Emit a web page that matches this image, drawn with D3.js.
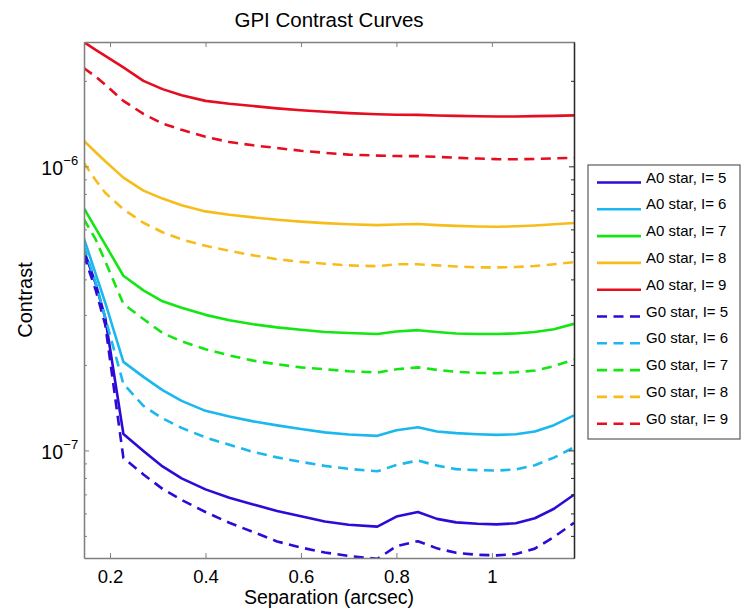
<!DOCTYPE html>
<html lang="en">
<head>
  <meta charset="UTF-8">
  <title>GPI Contrast Curves</title>
  <script src="https://d3js.org/d3.v7.min.js"></script>
  <style>
    * {
      margin: 0;
      padding: 0;
      box-sizing: border-box;
    }
    body {
      background: #fff;
      font-family: "Liberation Sans", Arial, sans-serif;
    }
    svg {
      display: block;
    }
  </style>
</head>
<body>
  <div id="chart"></div>
  <script>
    // separation (arcsec) where the curves are sampled
    const separation = [0.145, 0.17, 0.19, 0.228, 0.27, 0.31, 0.35, 0.40, 0.45, 0.50, 0.55, 0.60, 0.65,
                        0.70, 0.76, 0.80, 0.845, 0.885, 0.925, 0.97, 1.01, 1.05, 1.09, 1.13, 1.172];

    // A0 star curves
    const a0I5 = [5.08e-7, 3.86e-7, 2.93e-7, 1.143e-7, 0.996e-7, 0.878e-7, 0.797e-7, 0.729e-7, 0.681e-7, 0.645e-7, 0.612e-7, 0.586e-7, 0.562e-7,
                  0.547e-7, 0.539e-7, 0.585e-7, 0.607e-7, 0.574e-7, 0.558e-7, 0.552e-7, 0.549e-7, 0.554e-7, 0.577e-7, 0.623e-7, 0.698e-7];
    const a0I6 = [5.60e-7, 4.18e-7, 3.31e-7, 2.05e-7, 1.815e-7, 1.63e-7, 1.494e-7, 1.378e-7, 1.317e-7, 1.265e-7, 1.225e-7, 1.19e-7, 1.157e-7,
                  1.138e-7, 1.125e-7, 1.178e-7, 1.207e-7, 1.166e-7, 1.15e-7, 1.14e-7, 1.134e-7, 1.14e-7, 1.165e-7, 1.227e-7, 1.328e-7];
    const a0I7 = [7.14e-7, 6.05e-7, 5.30e-7, 4.12e-7, 3.66e-7, 3.35e-7, 3.18e-7, 3.00e-7, 2.87e-7, 2.78e-7, 2.71e-7, 2.66e-7, 2.61e-7,
                  2.59e-7, 2.57e-7, 2.62e-7, 2.65e-7, 2.61e-7, 2.58e-7, 2.57e-7, 2.57e-7, 2.58e-7, 2.61e-7, 2.67e-7, 2.79e-7];
    const a0I8 = [1.23e-6, 1.121e-6, 1.042e-6, 9.125e-7, 8.21e-7, 7.70e-7, 7.29e-7, 6.94e-7, 6.75e-7, 6.61e-7, 6.49e-7, 6.39e-7, 6.31e-7,
                  6.25e-7, 6.21e-7, 6.24e-7, 6.27e-7, 6.21e-7, 6.17e-7, 6.14e-7, 6.13e-7, 6.15e-7, 6.19e-7, 6.25e-7, 6.32e-7];
    const a0I9 = [2.74e-6, 2.57e-6, 2.45e-6, 2.23e-6, 2.00e-6, 1.87e-6, 1.78e-6, 1.70e-6, 1.66e-6, 1.63e-6, 1.60e-6, 1.575e-6, 1.556e-6,
                  1.539e-6, 1.525e-6, 1.52e-6, 1.518e-6, 1.51e-6, 1.505e-6, 1.50e-6, 1.497e-6, 1.498e-6, 1.503e-6, 1.505e-6, 1.512e-6];

    // G0 star curves
    const g0I5 = [4.88e-7, 3.67e-7, 2.77e-7, 0.941e-7, 0.823e-7, 0.732e-7, 0.669e-7, 0.607e-7, 0.556e-7, 0.516e-7, 0.478e-7, 0.455e-7, 0.437e-7,
                  0.425e-7, 0.415e-7, 0.460e-7, 0.479e-7, 0.452e-7, 0.436e-7, 0.429e-7, 0.427e-7, 0.432e-7, 0.451e-7, 0.496e-7, 0.556e-7];
    const g0I6 = [5.25e-7, 3.89e-7, 2.93e-7, 1.715e-7, 1.435e-7, 1.296e-7, 1.20e-7, 1.111e-7, 1.046e-7, 0.988e-7, 0.945e-7, 0.911e-7, 0.882e-7,
                  0.861e-7, 0.844e-7, 0.889e-7, 0.921e-7, 0.884e-7, 0.859e-7, 0.852e-7, 0.849e-7, 0.857e-7, 0.887e-7, 0.943e-7, 1.025e-7];
    const g0I7 = [6.53e-7, 5.53e-7, 4.63e-7, 3.28e-7, 2.90e-7, 2.59e-7, 2.42e-7, 2.27e-7, 2.16e-7, 2.07e-7, 2.01e-7, 1.96e-7, 1.93e-7,
                  1.90e-7, 1.88e-7, 1.93e-7, 1.96e-7, 1.92e-7, 1.89e-7, 1.875e-7, 1.87e-7, 1.885e-7, 1.91e-7, 1.98e-7, 2.09e-7];
    const g0I8 = [1.029e-6, 8.93e-7, 8.07e-7, 7.06e-7, 6.33e-7, 5.86e-7, 5.53e-7, 5.25e-7, 5.04e-7, 4.86e-7, 4.71e-7, 4.61e-7, 4.54e-7,
                  4.48e-7, 4.45e-7, 4.52e-7, 4.52e-7, 4.48e-7, 4.44e-7, 4.41e-7, 4.41e-7, 4.42e-7, 4.46e-7, 4.52e-7, 4.60e-7];
    const g0I9 = [2.22e-6, 2.07e-6, 1.94e-6, 1.70e-6, 1.53e-6, 1.415e-6, 1.344e-6, 1.270e-6, 1.218e-6, 1.186e-6, 1.160e-6, 1.135e-6, 1.116e-6,
                  1.100e-6, 1.091e-6, 1.087e-6, 1.086e-6, 1.080e-6, 1.072e-6, 1.065e-6, 1.060e-6, 1.059e-6, 1.062e-6, 1.067e-6, 1.072e-6];

    const seriesNames = ["A0 star, I= 5", "A0 star, I= 6", "A0 star, I= 7", "A0 star, I= 8", "A0 star, I= 9",
                         "G0 star, I= 5", "G0 star, I= 6", "G0 star, I= 7", "G0 star, I= 8", "G0 star, I= 9"];
    const seriesValues = [a0I5, a0I6, a0I7, a0I8, a0I9, g0I5, g0I6, g0I7, g0I8, g0I9];
    const magColors = ["#2d0ad6", "#1ab8ee", "#14e614", "#f6bd1a", "#e50d1f"];

    const xTicks = [0.2, 0.4, 0.6, 0.8, 1];
    const xTickLabels = ["0.2", "0.4", "0.6", "0.8", "1"];
    const yMajor = [1e-7, 1e-6];
    const yMajorExp = ["\u22127", "\u22126"];
    const yMinor = [5e-8, 6e-8, 7e-8, 8e-8, 9e-8, 2e-7, 3e-7, 4e-7, 5e-7, 6e-7, 7e-7, 8e-7, 9e-7, 2e-6];

    const margin = {top: 42, right: 168, bottom: 52, left: 84},
          width = 742 - margin.left - margin.right,
          height = 610 - margin.top - margin.bottom;

    const root = d3.select("#chart")
                   .append("svg")
                   .attr("width", 742)
                   .attr("height", 610);

    const svg = root.append("g")
                    .attr("transform", `translate(${margin.left},${margin.top})`);

    const x = d3.scaleLinear()
                .domain([0.1455, 1.172])
                .range([0, width]);

    const y = d3.scaleLog()
                .domain([4.18e-8, 2.74e-6])
                .range([height, 0]);

    const axisGray = "#808080";
    const axisDark = "#2a2a2a";

    svg.append("rect")
       .attr("width", width)
       .attr("height", height)
       .attr("fill", "white");

    svg.append("clipPath")
       .attr("id", "plot-clip")
       .append("rect")
       .attr("width", width)
       .attr("height", height);

    // curves: A0 solid first, G0 dashed on top
    const line = d3.line()
                   .x((d, i) => x(separation[i]))
                   .y(d => y(d));

    svg.append("g")
       .attr("clip-path", "url(#plot-clip)")
       .selectAll("path")
       .data(seriesValues)
       .enter()
       .append("path")
       .attr("d", d => line(d))
       .attr("fill", "none")
       .attr("stroke", (d, i) => magColors[i % 5])
       .attr("stroke-width", 2.6)
       .attr("stroke-linejoin", "round")
       .attr("stroke-dasharray", (d, i) => i < 5 ? null : "10,6.5");

    // axes, ticks pointing inward
    const xAxisBottom = svg.append("g")
       .attr("transform", `translate(0,${height})`)
       .call(d3.axisBottom(x)
               .tickValues(xTicks)
               .tickFormat((d, i) => xTickLabels[i])
               .tickSizeInner(-5)
               .tickSizeOuter(0)
               .tickPadding(12));
    xAxisBottom.selectAll("text")
          .style("font-size", "18.5px")
          .style("font-family", "'Liberation Sans', Arial, sans-serif")
          .attr("fill", "#000");

    const xAxisTop = svg.append("g")
       .call(d3.axisTop(x)
               .tickValues(xTicks)
               .tickFormat("")
               .tickSizeInner(-5)
               .tickSizeOuter(0));

    const leftMajor = svg.append("g")
       .call(d3.axisLeft(y)
               .tickValues(yMajor)
               .tickFormat("")
               .tickSizeInner(-5)
               .tickSizeOuter(0));
    const leftMinor = svg.append("g")
       .call(d3.axisLeft(y)
               .tickValues(yMinor)
               .tickFormat("")
               .tickSizeInner(-3)
               .tickSizeOuter(0));

    const rightMajor = svg.append("g")
       .attr("transform", `translate(${width},0)`)
       .call(d3.axisRight(y)
               .tickValues(yMajor)
               .tickFormat("")
               .tickSizeInner(-5)
               .tickSizeOuter(0));
    const rightMinor = svg.append("g")
       .attr("transform", `translate(${width},0)`)
       .call(d3.axisRight(y)
               .tickValues(yMinor)
               .tickFormat("")
               .tickSizeInner(-3)
               .tickSizeOuter(0));

    [xAxisBottom, xAxisTop, leftMajor, leftMinor].forEach(g => {
      g.selectAll("line").attr("stroke", axisGray);
      g.select(".domain").attr("stroke", axisGray).attr("stroke-width", 1.3);
    });
    [rightMajor, rightMinor].forEach(g => {
      g.selectAll("line").attr("stroke", axisDark);
      g.select(".domain").attr("stroke", axisDark).attr("stroke-width", 1.3);
    });

    // 10^n labels on the log axis
    const yLabels = svg.append("g");
    yMajor.forEach((v, i) => {
      yLabels.append("text")
             .attr("x", -21)
             .attr("y", y(v) + 8.3)
             .attr("text-anchor", "end")
             .style("font-size", "19.5px")
             .text("10");
      yLabels.append("text")
             .attr("x", -20.7)
             .attr("y", y(v) - 1.5)
             .attr("text-anchor", "start")
             .style("font-size", "13px")
             .text(yMajorExp[i]);
    });

    // title and axis labels
    svg.append("text")
       .attr("x", width / 2)
       .attr("y", -15)
       .attr("text-anchor", "middle")
       .style("font-size", "20.5px")
       .text("GPI Contrast Curves");

    svg.append("text")
       .attr("x", width / 2)
       .attr("y", height + 46)
       .attr("text-anchor", "middle")
       .style("font-size", "19.5px")
       .text("Separation (arcsec)");

    svg.append("text")
       .attr("transform", `translate(-52.5,${height / 2 + 0}) rotate(-90)`)
       .attr("text-anchor", "middle")
       .style("font-size", "20px")
       .text("Contrast");

    // legend
    const legend = root.append("g")
                       .attr("transform", "translate(588,165)");

    legend.append("rect")
          .attr("width", 152)
          .attr("height", 274)
          .attr("fill", "white")
          .attr("stroke", "#5a5a5a")
          .attr("stroke-width", 1.2);

    seriesNames.forEach((name, i) => {
      const row = legend.append("g")
                        .attr("transform", `translate(0, ${17.5 + i * 26.8})`);
      row.append("line")
         .attr("x1", 9)
         .attr("x2", 53)
         .attr("y1", 0)
         .attr("y2", 0)
         .attr("stroke", magColors[i % 5])
         .attr("stroke-width", 2.6)
         .attr("stroke-dasharray", i < 5 ? null : "10,6.5");
      row.append("text")
         .attr("x", 58)
         .attr("y", 0)
         .style("font-size", "15px")
         .text(name);
    });
  </script>
</body>
</html>
